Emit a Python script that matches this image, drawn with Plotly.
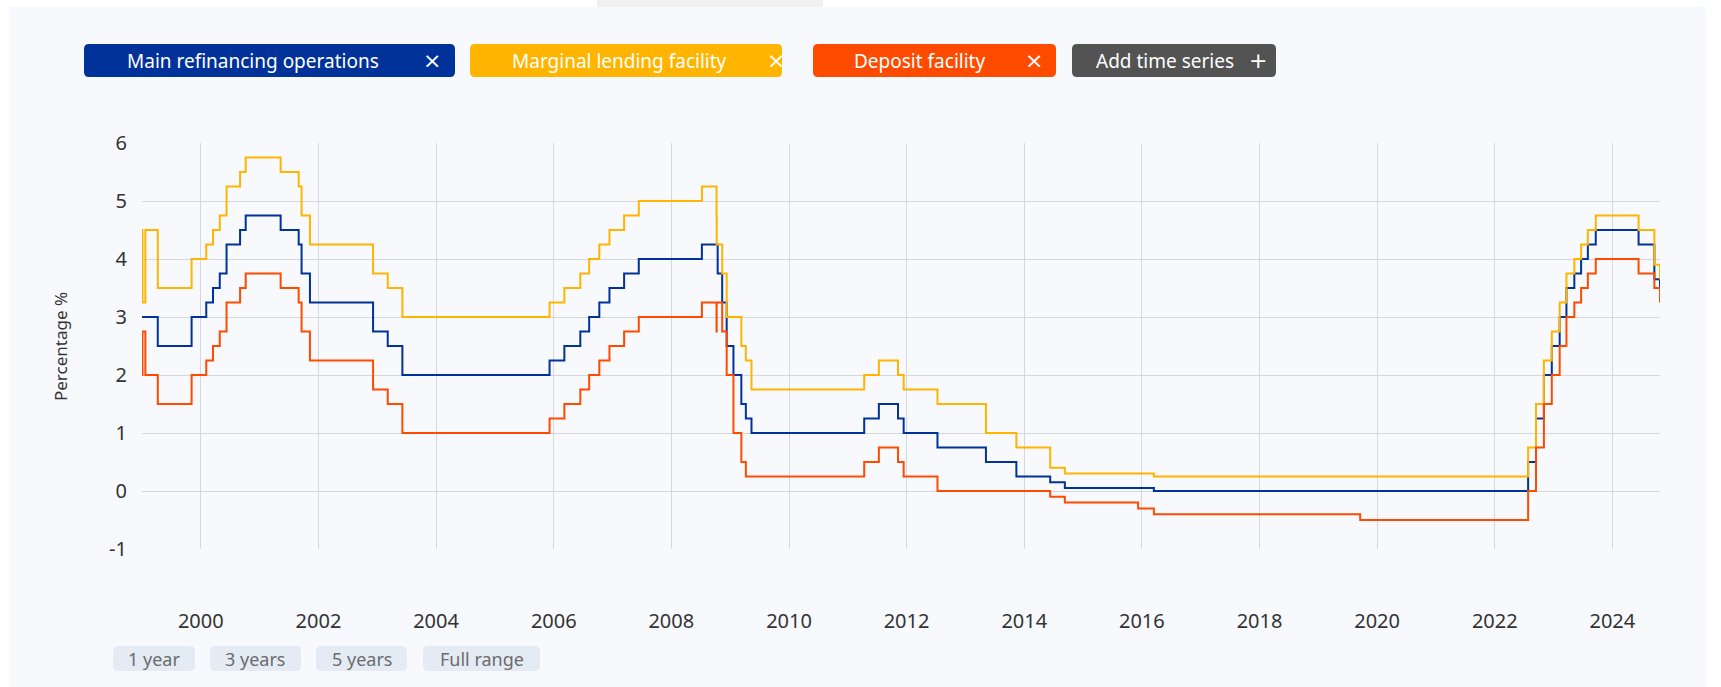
import plotly.graph_objects as go

# ---- data (ECB key interest rates, %) ----
dates = ["1999-01-01", "1999-01-04", "1999-01-22", "1999-04-09", "1999-11-05",
         "2000-02-04", "2000-03-17", "2000-04-28", "2000-06-09", "2000-09-01",
         "2000-10-06", "2001-05-11", "2001-08-31", "2001-09-18", "2001-11-09",
         "2002-12-06", "2003-03-07", "2003-06-06", "2005-12-06", "2006-03-08",
         "2006-06-15", "2006-08-09", "2006-10-11", "2006-12-13", "2007-03-14",
         "2007-06-13", "2008-07-09", "2008-10-08", "2008-10-09", "2008-10-15",
         "2008-11-12", "2008-12-10", "2009-01-21", "2009-03-11", "2009-04-08",
         "2009-05-13", "2011-04-13", "2011-07-13", "2011-11-09", "2011-12-14",
         "2012-07-11", "2013-05-08", "2013-11-13", "2014-06-11", "2014-09-10",
         "2015-12-09", "2016-03-16", "2019-09-18", "2022-07-27", "2022-09-14",
         "2022-11-02", "2022-12-21", "2023-02-08", "2023-03-22", "2023-05-10",
         "2023-06-21", "2023-08-02", "2023-09-20", "2024-06-12", "2024-09-18",
         "2024-10-23"]
main_refi = [3.00, 3.00, 3.00, 2.50, 3.00,
             3.25, 3.50, 3.75, 4.25, 4.50,
             4.75, 4.50, 4.25, 3.75, 3.25,
             2.75, 2.50, 2.00, 2.25, 2.50,
             2.75, 3.00, 3.25, 3.50, 3.75,
             4.00, 4.25, 4.25, 4.25, 3.75,
             3.25, 2.50, 2.00, 1.50, 1.25,
             1.00, 1.25, 1.50, 1.25, 1.00,
             0.75, 0.50, 0.25, 0.15, 0.05,
             0.05, 0.00, 0.00, 0.50, 1.25,
             2.00, 2.50, 3.00, 3.50, 3.75,
             4.00, 4.25, 4.50, 4.25, 3.65,
             3.40]
marginal = [4.50, 3.25, 4.50, 3.50, 4.00,
            4.25, 4.50, 4.75, 5.25, 5.50,
            5.75, 5.50, 5.25, 4.75, 4.25,
            3.75, 3.50, 3.00, 3.25, 3.50,
            3.75, 4.00, 4.25, 4.50, 4.75,
            5.00, 5.25, 4.75, 4.25, 4.25,
            3.75, 3.00, 3.00, 2.50, 2.25,
            1.75, 2.00, 2.25, 2.00, 1.75,
            1.50, 1.00, 0.75, 0.40, 0.30,
            0.30, 0.25, 0.25, 0.75, 1.50,
            2.25, 2.75, 3.25, 3.75, 4.00,
            4.25, 4.50, 4.75, 4.50, 3.90,
            3.65]
deposit = [2.00, 2.75, 2.00, 1.50, 2.00,
           2.25, 2.50, 2.75, 3.25, 3.50,
           3.75, 3.50, 3.25, 2.75, 2.25,
           1.75, 1.50, 1.00, 1.25, 1.50,
           1.75, 2.00, 2.25, 2.50, 2.75,
           3.00, 3.25, 2.75, 3.25, 3.25,
           2.75, 2.00, 1.00, 0.50, 0.25,
           0.25, 0.50, 0.75, 0.50, 0.25,
           0.00, 0.00, 0.00, -0.10, -0.20,
           -0.30, -0.40, -0.50, 0.00, 0.75,
           1.50, 2.00, 2.50, 3.00, 3.25,
           3.50, 3.75, 4.00, 3.75, 3.50,
           3.25]

series_names = ["Main refinancing operations", "Marginal lending facility", "Deposit facility"]
series_colors = ["#003299", "#ffb400", "#ff4b00"]
x_tick_vals = ["2000-01-01", "2002-01-01", "2004-01-01", "2006-01-01", "2008-01-01",
               "2010-01-01", "2012-01-01", "2014-01-01", "2016-01-01", "2018-01-01",
               "2020-01-01", "2022-01-01", "2024-01-01"]
x_tick_text = ["2000", "2002", "2004", "2006", "2008", "2010", "2012", "2014",
               "2016", "2018", "2020", "2022", "2024"]
y_tick_vals = [-1, 0, 1, 2, 3, 4, 5, 6]
y_tick_text = ["-1", "0", "1", "2", "3", "4", "5", "6"]
range_buttons = ["1 year", "3 years", "5 years", "Full range"]

# ---- layout geometry (pixels) ----
W, H = 1721, 687
L, R, T, B = 142, 1660, 143, 549
FONT = "Noto Sans"


def px(x):
    return (x - L) / (R - L)


def py(y):
    return (B - y) / (B - T)


def rrect(x0, y0, x1, y1, r):
    rx = r / (R - L)
    ry = r / (B - T)
    a0, a1 = px(x0), px(x1)
    b0, b1 = py(y1), py(y0)  # b0 bottom, b1 top
    return (f"M {a0+rx},{b0} L {a1-rx},{b0} Q {a1},{b0} {a1},{b0+ry} "
            f"L {a1},{b1-ry} Q {a1},{b1} {a1-rx},{b1} L {a0+rx},{b1} "
            f"Q {a0},{b1} {a0},{b1-ry} L {a0},{b0+ry} Q {a0},{b0} {a0+rx},{b0} Z")


fig = go.Figure()
for name, vals, col in zip(series_names, [main_refi, marginal, deposit], series_colors):
    fig.add_trace(go.Scatter(x=dates, y=vals, name=name, mode="lines",
                             line=dict(color=col, width=2, shape="hv"),
                             showlegend=False))

shapes = []
annotations = []

# panel background
shapes.append(dict(type="rect", xref="paper", yref="paper", layer="below",
                   x0=px(9), x1=px(1706), y0=py(687), y1=py(7),
                   fillcolor="#f7f9fd", line=dict(width=0)))
shapes.append(dict(type="rect", xref="paper", yref="paper", layer="below",
                   x0=px(597), x1=px(823), y0=py(7), y1=py(0),
                   fillcolor="#f0f0f0", line=dict(width=0)))

# legend-like buttons
btns = [
    (84, 455, "#003299", series_names[0], 253, "×", 432),
    (470, 782, "#ffb400", series_names[1], 619, "×", 776),
    (813, 1056, "#ff4b00", series_names[2], 919, "×", 1034),
    (1072, 1276, "#535353", "Add time series", 1165, "+", 1258),
]
for x0, x1, col, label, tx, sym, sx in btns:
    shapes.append(dict(type="path", xref="paper", yref="paper", layer="below",
                       path=rrect(x0, 44, x1, 77, 5), fillcolor=col, line=dict(width=0)))
    annotations.append(dict(xref="paper", yref="paper", x=px(tx), y=py(60.5),
                            text=label, showarrow=False, xanchor="center", yanchor="middle",
                            font=dict(family=FONT, size=19, color="white")))
    annotations.append(dict(xref="paper", yref="paper", x=px(sx), y=py(60),
                            text=sym, showarrow=False, xanchor="center", yanchor="middle",
                            font=dict(family="DejaVu Sans", size=22, color="white")))

# range buttons
rb = [(113, 195, 153.5), (210, 301, 255), (316, 407, 362), (423, 540, 481.5)]
for (x0, x1, tx), label in zip(rb, range_buttons):
    shapes.append(dict(type="path", xref="paper", yref="paper", layer="below",
                       path=rrect(x0, 646, x1, 671, 5), fillcolor="#e5ebf5",
                       line=dict(width=0)))
    annotations.append(dict(xref="paper", yref="paper", x=px(tx), y=py(658.5),
                            text=label, showarrow=False, xanchor="center", yanchor="middle",
                            font=dict(family=FONT, size=18, color="#6b6b6b")))

# y-axis title
annotations.append(dict(xref="paper", yref="paper", x=px(60), y=py(347),
                        text="Percentage %", showarrow=False, textangle=-90,
                        xanchor="center", yanchor="middle",
                        font=dict(family=FONT, size=17, color="#333333")))

fig.update_layout(
    width=W, height=H, autosize=False,
    margin=dict(l=L, r=W - R, t=T, b=H - B, pad=0),
    paper_bgcolor="white", plot_bgcolor="rgba(0,0,0,0)",
    shapes=shapes, annotations=annotations,
    xaxis=dict(type="date", range=["1999-01-01", "2024-10-23"],
               tickvals=x_tick_vals, ticktext=x_tick_text,
               showgrid=True, gridcolor="#d5d7dc", gridwidth=1,
               zeroline=False, showline=False, ticks="",
               ticklabelstandoff=58,
               tickfont=dict(family=FONT, size=20, color="#333333")),
    yaxis=dict(range=[-1, 6], tickvals=y_tick_vals, ticktext=y_tick_text,
               showgrid=True, gridcolor="#d5d7dc", gridwidth=1,
               zeroline=False, showline=False, ticks="",
               ticklabelstandoff=14,
               tickfont=dict(family=FONT, size=20, color="#333333")),
)

fig.write_html("out.html", config={"displayModeBar": False},
               post_script="document.body.style.margin='0';document.body.style.overflow='hidden';")
